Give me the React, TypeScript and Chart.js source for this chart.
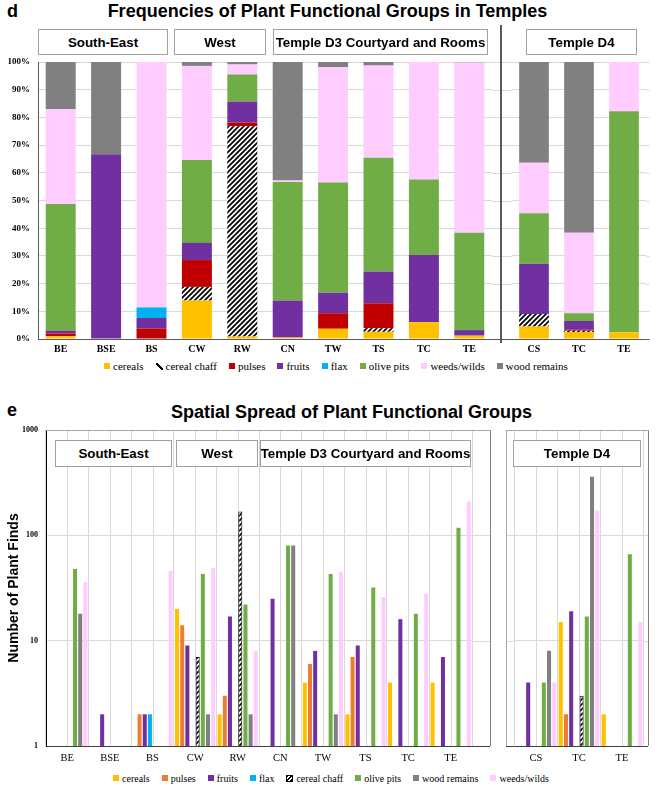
import React, { useEffect, useRef } from 'react';
import { Chart, registerables } from 'chart.js';

Chart.register(...registerables);

// ---------- data ----------
const categories = ['BE', 'BSE', 'BS', 'CW', 'RW', 'CN', 'TW', 'TS', 'TC', 'TE', 'CS', 'TC', 'TE'];
const SPLIT = 10; // first 10 columns: South-East / West / Temple D3, last 3: Temple D4

// panel d: percentage of finds per group
const pctCereals = [1.0, 0, 0, 13.9, 0.9, 0.5, 3.7, 2.6, 6.1, 1.2, 4.5, 2.5, 2.4];
const pctChaff = [0, 0, 0, 4.9, 75.9, 0, 0, 1.3, 0, 0, 4.5, 0.5, 0];
const pctPulses = [1.0, 0, 3.8, 9.7, 1.3, 0, 5.6, 9.0, 0, 0, 0, 0.3, 0];
const pctFruits = [1.0, 66.7, 3.8, 6.2, 7.6, 13.4, 7.4, 11.5, 24.2, 2.0, 18.2, 3.2, 0];
const pctFlax = [0, 0, 3.8, 0, 0, 0, 0, 0, 0, 0, 0, 0, 0];
const pctOlive = [45.7, 0, 0, 29.9, 9.8, 42.8, 39.8, 41.0, 27.3, 35.2, 18.2, 2.8, 79.8];
const pctWeeds = [34.3, 0, 88.6, 34.0, 3.6, 0.5, 41.7, 33.3, 42.4, 61.4, 18.2, 29.1, 17.8];
const pctWood = [17.0, 33.3, 0, 1.4, 0.9, 42.8, 1.8, 1.3, 0, 0.2, 36.4, 61.6, 0];

// panel e: number of plant finds
const cntCereals = [1, null, null, 20, 2, 1, 4, 2, 4, 4, 1, 15, 2];
const cntPulses = [1, null, 2, 14, 3, null, 6, 7, null, null, null, 2, null];
const cntFruits = [1, 2, 2, 9, 17, 25, 8, 9, 16, 7, 4, 19, null];
const cntFlax = [null, null, 2, null, null, null, null, null, null, null, null, null, null];
const cntChaff = [null, null, null, 7, 168, null, null, 1, null, null, 1, 3, null];
const cntOlive = [48, null, null, 43, 22, 80, 43, 32, 18, 118, 4, 17, 66];
const cntWood = [18, 1, null, 2, 2, 80, 2, 1, null, 1, 8, 360, null];
const cntWeeds = [36, null, 46, 49, 8, 1, 45, 26, 28, 210, 4, 172, 15];

const percentTicks = [0, 10, 20, 30, 40, 50, 60, 70, 80, 90, 100];
const countTicks = [1, 10, 100, 1000];

// ---------- styles ----------
const SERIF = "'Liberation Serif', 'Times New Roman', serif";
const SANS = "'Liberation Sans', Arial, sans-serif";
const COL = {
  cereals: '#FFC000',
  pulsesD: '#C00000',
  pulsesE: '#ED7D31',
  fruits: '#7030A0',
  flax: '#00B0F0',
  olive: '#70AD47',
  weeds: '#FFCCFF',
  wood: '#808080',
};

function makeHatch(): CanvasPattern | string {
  const s = 5;
  const c = document.createElement('canvas');
  c.width = s;
  c.height = s;
  const x = c.getContext('2d');
  if (!x) return '#000';
  x.fillStyle = '#fff';
  x.fillRect(0, 0, s, s);
  x.strokeStyle = '#000';
  x.lineWidth = 1.8;
  x.beginPath();
  x.moveTo(0, s);
  x.lineTo(s, 0);
  x.moveTo(-s / 2, s / 2);
  x.lineTo(s / 2, -s / 2);
  x.moveTo(s / 2, s * 1.5);
  x.lineTo(s * 1.5, s / 2);
  x.stroke();
  return x.createPattern(c, 'repeat') || '#000';
}

// extends horizontal grid lines / axis line beyond the chart area, draws centre lines
const gridExt = {
  id: 'gridExt',
  beforeDatasetsDraw(chart: any, _args: any, opts: any) {
    const { ctx, chartArea: a, scales } = chart;
    const y = scales.y;
    const x = scales.x;
    const L = opts.left || 0;
    const R = opts.right || 0;
    const line = (x1: number, y1: number, x2: number, y2: number) => {
      ctx.beginPath();
      ctx.moveTo(x1, y1);
      ctx.lineTo(x2, y2);
      ctx.stroke();
    };
    ctx.save();
    ctx.lineWidth = 1;
    ctx.strokeStyle = opts.gridColor || '#d9d9d9';
    if (opts.centers) {
      for (let i = 0; i < x.ticks.length; i++) {
        const px = Math.round(x.getPixelForTick(i)) + 0.5;
        line(px, a.top, px, a.bottom);
      }
    }
    for (const t of y.ticks) {
      const py = Math.round(y.getPixelForValue(t.value)) + 0.5;
      if (L) line(a.left - L, py, a.left, py);
      if (R) line(a.right, py, a.right + R, py);
    }
    ctx.strokeStyle = opts.axisColor || '#595959';
    const by = Math.round(a.bottom) + 0.5;
    if (L) line(a.left - L, by, a.left, by);
    if (R) line(a.right, by, a.right + R, by);
    ctx.restore();
  },
};

function buildD(side: 'L' | 'R') {
  const [a, b] = side === 'L' ? [0, SPLIT] : [SPLIT, categories.length];
  const hatch = makeHatch();
  const series: [string, number[], any][] = [
    ['cereals', pctCereals, COL.cereals],
    ['cereal chaff', pctChaff, hatch],
    ['pulses', pctPulses, COL.pulsesD],
    ['fruits', pctFruits, COL.fruits],
    ['flax', pctFlax, COL.flax],
    ['olive pits', pctOlive, COL.olive],
    ['weeds/wilds', pctWeeds, COL.weeds],
    ['wood remains', pctWood, COL.wood],
  ];
  const isL = side === 'L';
  return {
    type: 'bar',
    data: {
      labels: categories.slice(a, b),
      datasets: series.map(([label, d, c]) => ({
        label,
        data: d.slice(a, b),
        backgroundColor: c,
        borderWidth: 0,
        barPercentage: 0.66,
        categoryPercentage: 1,
      })),
    },
    options: {
      responsive: false,
      maintainAspectRatio: false,
      animation: false,
      events: [],
      layout: { padding: isL ? { top: 7, right: 20, left: 0, bottom: 0 } : { top: 7, right: 8.5, left: 11.5, bottom: 0 } },
      plugins: {
        legend: { display: false },
        tooltip: { enabled: false },
        gridExt: isL ? { right: 20, gridColor: '#d9d9d9', axisColor: '#595959' } : { right: 3, gridColor: '#d9d9d9', axisColor: '#595959' },
      },
      scales: {
        x: {
          stacked: true,
          grid: { display: false, drawTicks: false },
          border: { display: true, color: '#595959', width: 1 },
          ticks: { font: { family: SERIF, size: 10, weight: 'bold' }, color: '#000', padding: 4, maxRotation: 0, autoSkip: false },
          afterFit: (s: any) => { s.height = 16; },
        },
        y: {
          stacked: true,
          min: 0,
          max: 100,
          afterBuildTicks: (s: any) => { s.ticks = percentTicks.map((v) => ({ value: v })); },
          grid: { color: '#d9d9d9', drawTicks: false },
          border: isL ? { display: true, color: '#595959', width: 1 } : { display: false },
          ticks: isL
            ? { callback: (v: any) => v + '%', font: { family: SERIF, size: 9, weight: 'bold' }, color: '#000', padding: 8 }
            : { display: false },
          afterFit: (s: any) => { s.width = isL ? 38 : 0; s.paddingTop = 0; s.paddingBottom = 0; },
        },
      },
    },
    plugins: [gridExt],
  };
}

function buildE(side: 'L' | 'R') {
  const [a, b] = side === 'L' ? [0, SPLIT] : [SPLIT, categories.length];
  const hatch = makeHatch();
  const series: [string, (number | null)[], any, boolean][] = [
    ['cereals', cntCereals, COL.cereals, false],
    ['pulses', cntPulses, COL.pulsesE, false],
    ['fruits', cntFruits, COL.fruits, false],
    ['flax', cntFlax, COL.flax, false],
    ['cereal chaff', cntChaff, hatch, true],
    ['olive pits', cntOlive, COL.olive, false],
    ['wood remains', cntWood, COL.wood, false],
    ['weeds/wilds', cntWeeds, COL.weeds, false],
  ];
  const isL = side === 'L';
  return {
    type: 'bar',
    data: {
      labels: categories.slice(a, b),
      datasets: series.map(([label, d, c, bordered]) => ({
        label,
        data: d.slice(a, b),
        backgroundColor: c,
        borderColor: '#000',
        borderWidth: bordered ? 1 : 0,
        barPercentage: 0.78,
        categoryPercentage: 0.97,
      })),
    },
    options: {
      responsive: false,
      maintainAspectRatio: false,
      animation: false,
      events: [],
      layout: { padding: isL ? { top: 10, right: 18, left: 0, bottom: 0 } : { top: 10, right: 11.5, left: 8.5, bottom: 0 } },
      plugins: {
        legend: { display: false },
        tooltip: { enabled: false },
        gridExt: isL
          ? { right: 18, centers: true, gridColor: '#d9d9d9', axisColor: '#404040' }
          : { left: 8.5, right: 4.5, centers: true, gridColor: '#d9d9d9', axisColor: '#404040' },
      },
      scales: {
        x: {
          grid: { color: '#d9d9d9', drawTicks: false, offset: true },
          border: { display: true, color: '#404040', width: 1 },
          ticks: { font: { family: SERIF, size: 10.5 }, color: '#000', padding: 6, maxRotation: 0, autoSkip: false },
          afterFit: (s: any) => { s.height = 24; },
        },
        y: {
          type: 'logarithmic',
          min: 1,
          max: 1000,
          afterBuildTicks: (s: any) => { s.ticks = countTicks.map((v) => ({ value: v })); },
          grid: { color: '#d9d9d9', drawTicks: false },
          border: isL ? { display: true, color: '#000', width: 1 } : { display: false },
          ticks: isL
            ? { callback: (v: any) => String(v), font: { family: SERIF, size: 8, weight: 'bold' }, color: '#000', padding: 8 }
            : { display: false },
          title: isL
            ? { display: true, text: 'Number of Plant Finds', font: { family: SANS, size: 14, weight: 'bold' }, color: '#000', padding: { top: 6, bottom: 0 } }
            : { display: false },
          afterFit: (s: any) => { s.width = isL ? 46 : 0; s.paddingTop = 0; s.paddingBottom = 0; },
        },
      },
    },
    plugins: [gridExt],
  };
}

function ChartCanvas({ left, top, width, height, build }: any) {
  const ref = useRef<HTMLCanvasElement | null>(null);
  useEffect(() => {
    if (!ref.current) return;
    const chart = new Chart(ref.current, build());
    return () => chart.destroy();
  }, []);
  return (
    <canvas
      ref={ref}
      width={width}
      height={height}
      style={{ position: 'absolute', left, top, width, height }}
    />
  );
}

function GroupBox({ left, top, width, height, text }: any) {
  return (
    <div
      style={{
        position: 'absolute', left, top, width, height, boxSizing: 'border-box',
        border: '1px solid #a0a0a0', background: '#fff', display: 'flex',
        alignItems: 'center', justifyContent: 'center', fontFamily: SANS,
        fontWeight: 'bold', fontSize: 13.3, color: '#000', whiteSpace: 'nowrap',
      }}
    >
      {text}
    </div>
  );
}

function Legend({ left, top, items, fontSize }: any) {
  return (
    <div
      style={{
        position: 'absolute', left, top, height: 14, display: 'flex', alignItems: 'center',
        gap: 12, fontFamily: SERIF, fontSize, color: '#000', whiteSpace: 'nowrap',
      }}
    >
      {items.map((it: any, i: number) => (
        <span key={i} style={{ display: 'flex', alignItems: 'center' }}>
          <span style={{ display: 'inline-block', width: 6, height: 6, marginRight: 3, boxSizing: 'border-box', ...it.swatch }} />
          {it.label}
        </span>
      ))}
    </div>
  );
}

const chaffSlash = { width: 7, height: 7, background: 'linear-gradient(to top right, transparent 40%, #000 40%, #000 60%, transparent 60%)' };
const chaffHatch = { width: 7, height: 7, border: '1px solid #000', background: 'repeating-linear-gradient(135deg, #000 0px, #000 1.2px, #fff 1.2px, #fff 2.6px)' };

const legendD = [
  { label: 'cereals', swatch: { background: COL.cereals } },
  { label: 'cereal chaff', swatch: chaffSlash },
  { label: 'pulses', swatch: { background: COL.pulsesD } },
  { label: 'fruits', swatch: { background: COL.fruits } },
  { label: 'flax', swatch: { background: COL.flax } },
  { label: 'olive pits', swatch: { background: COL.olive } },
  { label: 'weeds/wilds', swatch: { background: COL.weeds } },
  { label: 'wood remains', swatch: { background: COL.wood } },
];

const legendE = [
  { label: 'cereals', swatch: { background: COL.cereals } },
  { label: 'pulses', swatch: { background: COL.pulsesE } },
  { label: 'fruits', swatch: { background: COL.fruits } },
  { label: 'flax', swatch: { background: COL.flax } },
  { label: 'cereal chaff', swatch: chaffHatch },
  { label: 'olive pits', swatch: { background: COL.olive } },
  { label: 'wood remains', swatch: { background: COL.wood } },
  { label: 'weeds/wilds', swatch: { background: COL.weeds } },
];

const titleStyle: any = {
  position: 'absolute', fontFamily: SANS, fontWeight: 'bold', fontSize: 18,
  lineHeight: '20px', color: '#000', whiteSpace: 'nowrap',
};

export default function App() {
  return (
    <div style={{ position: 'absolute', left: 0, top: 0, width: 655, height: 786, background: '#fff', overflow: 'hidden' }}>
      {/* Panel d */}
      <div style={{ ...titleStyle, left: 7, top: 1 }}>d</div>
      <div style={{ ...titleStyle, left: 0, top: 1, width: 655, textAlign: 'center' }}>
        Frequencies of Plant Functional Groups in Temples
      </div>
      <ChartCanvas left={0} top={55} width={512} height={300} build={() => buildD('L')} />
      <ChartCanvas left={500} top={55} width={155} height={300} build={() => buildD('R')} />
      <div style={{ position: 'absolute', left: 500, top: 25, width: 1.5, height: 318, background: '#595959' }} />
      <GroupBox left={38} top={29} width={130} height={26} text="South-East" />
      <GroupBox left={174} top={29} width={92} height={26} text="West" />
      <GroupBox left={273} top={29} width={215} height={26} text="Temple D3 Courtyard and Rooms" />
      <GroupBox left={526} top={29} width={111} height={26} text="Temple D4" />
      <Legend left={104} top={359} items={legendD} fontSize={11} />

      {/* Panel e */}
      <div style={{ ...titleStyle, left: 7, top: 400 }}>e</div>
      <div style={{ ...titleStyle, left: 24, top: 402, width: 655, textAlign: 'center' }}>
        Spatial Spread of Plant Functional Groups
      </div>
      <ChartCanvas left={0} top={420} width={490} height={350} build={() => buildE('L')} />
      <ChartCanvas left={506} top={420} width={149} height={350} build={() => buildE('R')} />
      <div style={{ position: 'absolute', left: 45, top: 430, width: 446, height: 316, boxSizing: 'border-box', borderTop: '1px solid #a6a6a6', borderRight: '1px solid #808080', pointerEvents: 'none' }} />
      <div style={{ position: 'absolute', left: 506, top: 430, width: 143, height: 316, boxSizing: 'border-box', borderTop: '1px solid #a6a6a6', borderLeft: '1px solid #a6a6a6', borderRight: '1px solid #808080', pointerEvents: 'none' }} />
      <GroupBox left={55} top={440} width={117} height={27} text="South-East" />
      <GroupBox left={176} top={440} width={82} height={27} text="West" />
      <GroupBox left={260} top={440} width={211} height={27} text="Temple D3 Courtyard and Rooms" />
      <GroupBox left={513} top={440} width={128} height={27} text="Temple D4" />
      <Legend left={113} top={771} items={legendE} fontSize={10} />
    </div>
  );
}
